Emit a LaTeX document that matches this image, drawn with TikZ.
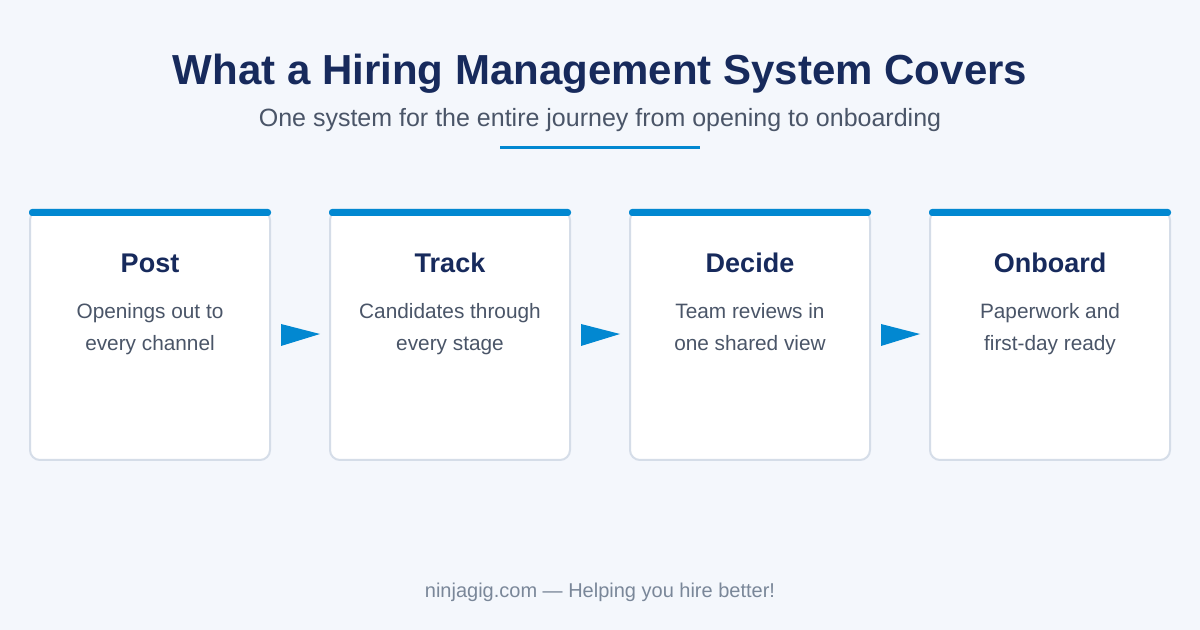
\documentclass[tikz,border=0pt]{standalone}
\usepackage{fontspec}
\setmainfont{Liberation Sans}
\usetikzlibrary{positioning,calc}
\definecolor{bgcol}{HTML}{F4F7FC}
\definecolor{navy}{HTML}{172A5C}
\definecolor{slate}{HTML}{4A5568}
\definecolor{accent}{HTML}{0288D1}
\definecolor{cardline}{HTML}{D5DDE8}
\definecolor{footgray}{HTML}{7A8799}

\begin{document}
\begin{tikzpicture}[x=0.5pt, y=-0.5pt, card/.style={draw=cardline, line width=1pt, fill=white, rounded corners=5pt, minimum width=120pt, minimum height=125pt, inner sep=0pt}, head/.style={font=\bfseries\fontsize{13.5}{16}\selectfont, text=navy}, body/.style={font=\fontsize{10.4}{16}\selectfont, text=slate, align=center}]
	\fill[bgcol] (0,0) rectangle (1200,630);
	\node[font=\bfseries\fontsize{21}{24}\selectfont, text=navy] (title) at (600,74) {What a Hiring Management System Covers};
	\node[font=\fontsize{12.5}{14}\selectfont, text=slate] (sub) at (600,120) {One system for the entire journey from opening to onboarding};
	\fill[accent] (500,146) rectangle (700,149);
	\foreach \name/\x/\h/\a/\b in {post/150/Post/Openings out to/every channel, track/450/Track/Candidates through/every stage, decide/750/Decide/Team reviews in/one shared view, onboard/1050/Onboard/Paperwork and/first-day ready} {
		\node[card] (\name) at (\x,335) {};
		\fill[accent, rounded corners=1.5pt] (\name.north west) rectangle ($(\name.north east)+(0,7)$);
		\node[head] (\name-head) at ($(\name.north)+(0,54)$) {\h};
		\node[body] (\name-body) at ($(\name.north)+(0,119)$) {\strut\a\\\strut\b};
	}
	\foreach \a in {post, track, decide} {
		\fill[accent] ($(\a.east)+(10,-11)$) -- ($(\a.east)+(49,-1)$) -- ($(\a.east)+(10,11)$) -- cycle;
	}
	\node[font=\fontsize{10}{12}\selectfont, text=footgray] (foot) at (600,592) {ninjagig.com — Helping you hire better!};
\end{tikzpicture}
\end{document}
